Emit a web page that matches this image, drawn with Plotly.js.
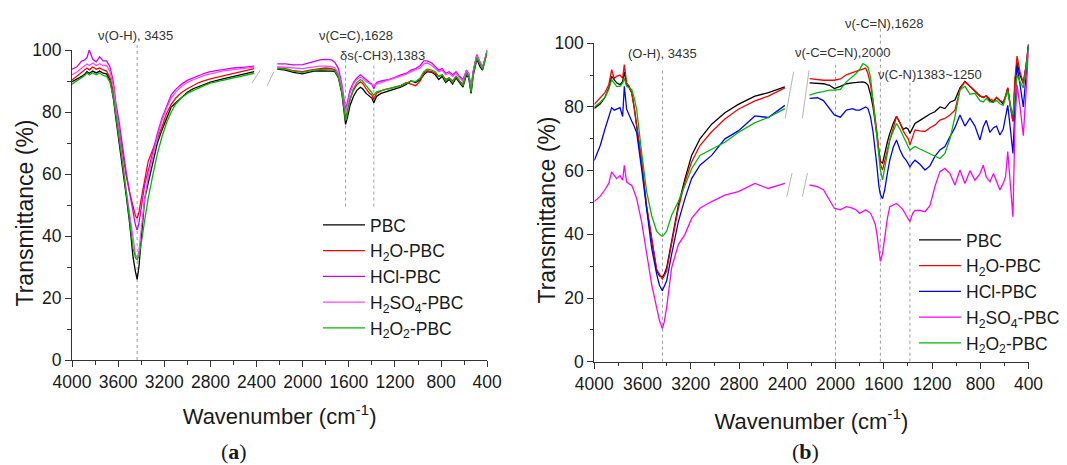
<!DOCTYPE html>
<html><head><meta charset="utf-8">
<script src="https://cdn.plot.ly/plotly-3.0.1.min.js"></script>
<style>html,body{margin:0;padding:0;background:#fff}#chart{width:1067px;height:465px}</style>
</head><body><div id="chart"></div>
<script>
// ---------------- Panel (a) data ----------------
const waveA1 = [4000, 3960, 3920, 3890, 3870, 3850, 3820, 3790, 3760, 3730, 3700, 3670, 3640, 3620, 3590, 3560, 3530, 3500, 3470, 3450, 3435, 3420, 3400, 3370, 3340, 3300, 3260, 3220, 3180, 3140, 3100, 3050, 3000, 2950, 2900, 2850, 2800, 2700, 2600, 2500, 2420];
const waveA2 = [2220, 2150, 2080, 2000, 1950, 1900, 1850, 1800, 1750, 1720, 1690, 1660, 1640, 1628, 1610, 1590, 1560, 1530, 1500, 1480, 1450, 1420, 1400, 1383, 1360, 1320, 1280, 1250, 1200, 1150, 1100, 1060, 1020, 980, 950, 920, 880, 850, 820, 790, 760, 730, 700, 670, 640, 610, 580, 560, 540, 520, 490, 460, 440, 420, 400];

const pbcA1 = [89.8, 90.5, 91.4, 92.2, 93, 92.5, 93.2, 92.6, 93.2, 92.5, 92.3, 90.3, 84, 78, 70, 62, 53, 44, 33, 28.5, 26, 30, 39, 52, 57, 63.6, 70, 74.2, 77.9, 81.6, 83, 84.7, 86.4, 87.5, 88.2, 88.9, 89.6, 90.6, 91.4, 92.3, 93];
const h2oA1 = [90.3, 91.5, 92.4, 93.5, 94.2, 93.6, 94.5, 93.8, 94.2, 93.6, 93.2, 91, 86.5, 81, 74, 65.6, 59.5, 54, 49.5, 46.5, 45.7, 47.5, 52, 58.5, 64, 67.8, 71.3, 75.2, 79.5, 82.5, 84.5, 86.3, 87.5, 88.6, 89.5, 90.1, 90.7, 91.6, 92.4, 93.2, 94];
const hclA1 = [93.8, 94.5, 96.3, 96.8, 97.5, 100, 97, 96.2, 97.8, 96.5, 96.5, 94.5, 89.5, 83, 76.5, 68, 60.5, 54, 47, 43.5, 41.9, 44, 49, 56.5, 61, 67, 73, 78, 82, 85.5, 87.3, 89, 90.2, 91, 91.8, 92.5, 93, 93.7, 94.2, 94.5, 94.8];
const h2so4A1 = [92, 92.8, 94, 94.8, 95.5, 95, 95.8, 95, 95.6, 95, 95, 93, 88, 81.5, 73.5, 64, 55, 46.5, 38, 34, 33, 35, 42, 52, 59, 65.5, 72, 77.2, 81.2, 84.5, 86.5, 88.3, 89.5, 90.4, 91.2, 91.8, 92.3, 93.2, 93.7, 94.1, 94.5];
const h2o2A1 = [89, 90, 91, 91.8, 92.6, 92, 92.6, 92, 92.6, 91.8, 91.5, 89.5, 84.5, 78.5, 71, 63, 54, 45, 36, 33, 32.3, 33.5, 37.5, 45, 52, 59.5, 66.5, 72, 76.5, 80, 82.6, 84.6, 86, 86.9, 87.8, 88.6, 89.3, 90.2, 91, 91.8, 92.5];

const pbcA2 = [93.8, 93.5, 92.8, 92.3, 92.8, 93.2, 93.3, 93.3, 93.2, 93, 91, 86, 79, 76, 78.5, 82, 85, 87, 88, 87.5, 86, 85, 84.5, 83, 85, 86, 86.5, 86.8, 87.5, 88, 89, 90, 89.5, 90.5, 92, 93, 92.8, 92, 90.5, 91.5, 89.5, 90.5, 89, 91, 89.5, 88, 92, 91, 86, 92, 97, 94.5, 93.5, 96.5, 99.5];
const h2oA2 = [94.2, 94, 93.3, 93, 93.4, 93.8, 94, 94.2, 94, 93.6, 91.5, 87, 80.5, 77.8, 80.5, 84, 87, 88.8, 89.7, 89.2, 87.5, 86, 85.5, 84, 86, 86.8, 87.3, 87.5, 88, 88.5, 89.5, 89, 88.5, 90, 92.5, 93.3, 93, 92.5, 91.5, 92, 90.5, 91, 90, 91.5, 90, 89, 93, 92, 87, 93, 98.5, 95.5, 94, 97, 99.8];
const hclA2 = [95.5, 95.5, 95.2, 95.3, 95.8, 96.3, 96.8, 97, 96.8, 96, 94, 89, 83, 80.6, 83.5, 87, 89.5, 91, 92, 91.5, 90.5, 89.5, 89, 87.5, 89.5, 90, 90.3, 90.5, 91.2, 92, 92.5, 93.5, 94, 95, 96.5, 96.5, 95.8, 94.5, 93.5, 94, 92.5, 93, 92, 93, 91.5, 90.5, 93.5, 92.5, 88, 93.5, 98.4, 96, 94.5, 97, 100];
const h2so4A2 = [94.6, 94.4, 94, 94, 94.3, 94.6, 94.8, 94.8, 94.6, 94.2, 92.5, 88, 82, 79.6, 82.5, 86, 89, 90.5, 91.2, 90.8, 89.8, 89.2, 88.8, 88.5, 89, 89.5, 89.8, 90.3, 91, 91.5, 92.2, 93, 93.5, 94.2, 95.5, 95.8, 95, 94, 93, 93.5, 92, 92.5, 91.5, 92.5, 91, 90, 93.3, 92.3, 87.5, 93.3, 98.2, 95.8, 94.2, 97, 99.8];
const h2o2A2 = [94, 93.8, 93.2, 92.8, 93.2, 93.6, 93.7, 93.7, 93.6, 93.3, 91.3, 86.5, 79.8, 77.3, 80, 84, 87.5, 89.5, 90.5, 90, 88.5, 87, 86.3, 85.4, 86.5, 87, 87.3, 87.5, 88, 88.5, 89.3, 90, 89.8, 91, 93, 93.8, 93.5, 93, 91.5, 92, 90, 91, 89.5, 91.5, 90, 88.5, 92.5, 91.5, 86.5, 92.5, 97.5, 95, 93.8, 96.5, 99.5];

// ---------------- Panel (b) data ----------------
const waveB1 = [4000, 3950, 3912, 3880, 3856, 3835, 3815, 3787, 3765, 3751, 3732, 3710, 3690, 3670, 3649, 3608, 3566, 3525, 3483, 3460, 3436, 3420, 3400, 3359, 3303, 3248, 3193, 3124, 3027, 2917, 2806, 2668, 2557, 2420];
const waveB2 = [2215, 2150, 2100, 2050, 2010, 1960, 1910, 1860, 1830, 1800, 1773, 1750, 1731, 1710, 1689, 1670, 1656, 1640, 1628, 1610, 1592, 1570, 1550, 1520, 1494, 1465, 1439, 1415, 1397, 1383, 1360, 1341, 1300, 1258, 1217, 1176, 1134, 1093, 1051, 1010, 968, 927, 885, 844, 803, 775, 750, 720, 690, 665, 637, 610, 590, 572, 550, 529, 512, 495, 470, 443, 420, 400];

const pbcB1 = [79.5, 81, 83, 86, 89.6, 88.5, 87.6, 87, 88, 91, 87, 86, 84.5, 80, 74, 62.7, 48.2, 37.8, 28.5, 27, 26.4, 27.5, 29.5, 37.8, 49.2, 57.5, 64.8, 70, 74.6, 78.2, 80.8, 83.4, 84.5, 86.3];
const h2oB1 = [80.8, 83, 84.5, 87, 91.7, 89, 89.6, 90, 89, 93.3, 87.6, 86.5, 84.5, 80, 74, 63, 49, 38.5, 29, 27.5, 26, 27, 28.5, 37, 48.2, 56.5, 62.7, 67.9, 72.2, 76.2, 79.3, 81.9, 83.4, 86];
const hclB1 = [63.2, 68, 73, 77, 79.8, 79, 79.3, 79.8, 77, 86.5, 79.3, 77, 75.6, 74, 72, 60.6, 47.2, 35.8, 27.5, 24, 22.3, 23.5, 25.4, 33.7, 44, 51.3, 57.5, 61.7, 64.8, 70, 72.5, 77.2, 76.7, 80.5];
const h2so4B1 = [50.3, 52, 54, 56, 59.6, 58.5, 57.5, 58.5, 57, 61.7, 56.5, 55.8, 55.4, 53.5, 51.3, 44, 33.7, 24.4, 17, 13, 10.4, 12.5, 17, 29.5, 36.8, 40, 45, 48.2, 50.3, 52.3, 53.4, 56, 54.4, 56];
const h2o2B1 = [80, 81.5, 83, 85.5, 88.6, 87.5, 86.5, 86.5, 87.5, 89, 86.5, 86, 85.5, 83, 79.3, 65.8, 53.4, 46, 41, 40, 39.4, 40, 41, 46, 50.3, 55.4, 60.6, 64.8, 66.8, 68.9, 72, 75.1, 76.7, 79.5];

const pbcB2 = [87.6, 87.5, 87.3, 86.8, 85.8, 86.5, 87.3, 87.6, 87.8, 87.8, 87.9, 87.6, 86.9, 84, 80, 75.5, 71, 66, 63, 62.3, 65.5, 69, 71.7, 75, 77.1, 75, 73, 73.5, 73, 71.7, 73.5, 74.8, 75.8, 76.9, 77.8, 78.5, 80, 79.5, 81.5, 82.2, 86, 88, 86.5, 85, 83.5, 83, 83.5, 82, 81.5, 83, 82, 81, 83.5, 86, 80, 75.5, 88, 94, 90, 87.4, 93, 99.5];
const h2oB2 = [88.9, 88.6, 88.4, 88.4, 88.4, 88.8, 90.1, 90.8, 91.2, 91.5, 92, 92.2, 90.5, 87, 82, 77, 72, 66, 62, 60.2, 63.4, 66.5, 69.6, 74, 77.1, 75, 72.5, 71, 70, 68.1, 71, 72.8, 72.5, 72.3, 73.5, 74.3, 75.9, 76.4, 77.5, 79, 85.5, 88, 86.5, 85, 83.5, 83, 83.5, 82.5, 82, 83, 82, 81.5, 83.5, 86, 80, 75.5, 89, 96, 91, 87.5, 93, 99.8];
const hclB2 = [82.7, 82.9, 82, 79.5, 77.5, 76.8, 79, 79.5, 79, 79, 79.5, 80, 79.5, 76.9, 72.2, 66.5, 61.2, 55, 52.5, 51.2, 54, 59.2, 63.3, 67.5, 69.6, 66.5, 64.4, 63.3, 62.3, 61.2, 62.5, 63.3, 62, 60.2, 61.5, 64.5, 66.5, 67.6, 70.7, 73.5, 77.5, 74, 76.5, 74, 69.6, 73.8, 75.8, 72, 73.5, 74, 71.2, 73, 77, 80.5, 73, 65.4, 80, 93, 87, 80, 90, 99];
const h2so4B2 = [55.5, 55, 54, 51, 48.2, 47.7, 48.7, 48.2, 47.7, 46.6, 47.2, 47.7, 47.2, 46.6, 45, 43, 40, 35, 31.5, 34, 39.3, 45, 48.7, 49.2, 49.7, 48.7, 47.7, 46, 45, 44, 46.6, 47.5, 47.5, 47.1, 49, 55, 59.7, 60.7, 59.1, 55.5, 60.2, 56, 60, 57, 59, 61.7, 58, 56.5, 59.1, 56.5, 53.9, 56, 58.1, 66, 55, 45.5, 75, 87, 80, 71, 85, 97];
const h2o2B2 = [83.7, 84.5, 84.8, 85.3, 85.3, 85.5, 87.9, 89.4, 90.5, 91.8, 93.6, 93.2, 92.5, 89.4, 82.1, 75, 69.6, 63, 60.2, 57.1, 61.2, 65.5, 69.6, 72.5, 74.8, 73, 70.7, 68.5, 67.5, 66.5, 67.2, 67.6, 66.8, 66, 65.2, 64.4, 63.8, 65.4, 70, 77, 85.3, 86.5, 84, 84.3, 82, 81.6, 82.7, 81.5, 81.6, 82, 81, 80.5, 83, 85, 80, 77.5, 84, 90, 88, 86, 92, 99];

const seriesNames = ['PBC', 'H<sub>2</sub>O-PBC', 'HCl-PBC', 'H<sub>2</sub>SO<sub>4</sub>-PBC', 'H<sub>2</sub>O<sub>2</sub>-PBC'];
const xTickVals = [4000, 3600, 3200, 2800, 2400, 2000, 1600, 1200, 800, 400];
const yTitle = 'Transmittance (%)';
const xTitle = 'Wavenumber (cm<sup>-1</sup>)';

// ---------------- styling ----------------
const colorsA = ['#000000', '#FF0000', '#CC00FF', '#FF44FF', '#00B800'];
const colorsB = ['#000000', '#FF0000', '#0000FF', '#FF00FF', '#00B800'];
const W = 1067, H = 465;
const px = v => v / W, py = v => 1 - v / H;
const domA = {x: [px(72), px(487.2)], y: [py(360), py(50)]};
const domB = {x: [px(594.3), px(1028.5)], y: [py(361.7), py(43.3)]};
const FONT = 'Liberation Sans, Arial, sans-serif';

function joinSeg(w1, v1, w2, v2) {
  const gap = (w1[w1.length - 1] + w2[0]) / 2;
  return {x: w1.concat([gap], w2), y: v1.concat([null], v2)};
}

const dataA = [[pbcA1, pbcA2], [h2oA1, h2oA2], [hclA1, hclA2], [h2so4A1, h2so4A2], [h2o2A1, h2o2A2]];
const dataB = [[pbcB1, pbcB2], [h2oB1, h2oB2], [hclB1, hclB2], [h2so4B1, h2so4B2], [h2o2B1, h2o2B2]];

const traces = [];
dataA.forEach((s, i) => {
  const d = joinSeg(waveA1, s[0], waveA2, s[1]);
  traces.push({type: 'scatter', mode: 'lines', x: d.x, y: d.y, xaxis: 'x', yaxis: 'y',
    name: seriesNames[i], legend: 'legend', legendgroup: 'a' + i, connectgaps: false,
    line: {color: colorsA[i], width: 1.3}, hoverinfo: 'skip'});
});
dataB.forEach((s, i) => {
  const d = joinSeg(waveB1, s[0], waveB2, s[1]);
  traces.push({type: 'scatter', mode: 'lines', x: d.x, y: d.y, xaxis: 'x2', yaxis: 'y2',
    name: seriesNames[i], legend: 'legend2', legendgroup: 'b' + i, connectgaps: false,
    line: {color: colorsB[i], width: 1.3}, hoverinfo: 'skip'});
});

const axisCommon = {
  showline: true, linecolor: '#333', linewidth: 1.2, ticks: 'outside', ticklen: 6, tickwidth: 1.2,
  tickcolor: '#333', showgrid: false, zeroline: false, fixedrange: true,
  tickfont: {family: FONT, size: 17.5, color: '#1a1a1a'}
};
function xAxis(dom, anchor, standoff) {
  return Object.assign({}, axisCommon, {
    domain: dom, anchor: anchor, range: [4000, 400], tickmode: 'array', tickvals: xTickVals,
    minor: {dtick: 200, tick0: 400, ticks: 'outside', ticklen: 3.5, tickwidth: 1.2, tickcolor: '#333'},
    title: {text: xTitle, font: {family: FONT, size: 22, color: '#1a1a1a'}, standoff: standoff}
  });
}
function yAxis(dom, anchor) {
  return Object.assign({}, axisCommon, {
    domain: dom, anchor: anchor, range: [0, 100], tickmode: 'linear', tick0: 0, dtick: 20,
    minor: {dtick: 10, ticks: 'outside', ticklen: 3.5, tickwidth: 1.2, tickcolor: '#333'}
  });
}

const dotted = {color: '#9a9a9a', width: 1, dash: 'dot'};
const brk = {color: '#b5b5b5', width: 1};
const shapes = [
  // panel (a) reference lines
  {type: 'line', xref: 'x', yref: 'paper', x0: 3435, x1: 3435, y0: domA.y[0], y1: py(43.3), line: dotted, layer: 'below'},
  {type: 'line', xref: 'x', yref: 'y', x0: 1628, x1: 1628, y0: 49.5, y1: 98.4, line: dotted, layer: 'below'},
  {type: 'line', xref: 'x', yref: 'y', x0: 1383, x1: 1383, y0: 49.5, y1: 95.7, line: dotted, layer: 'below'},
  // panel (a) axis-break marks
  {type: 'line', xref: 'x', yref: 'y', x0: 2440, x1: 2367, y0: 89.3, y1: 93.5, line: brk},
  {type: 'line', xref: 'x', yref: 'y', x0: 2309, x1: 2250, y0: 88.4, y1: 93, line: brk},
  // panel (b) reference lines
  {type: 'line', xref: 'x2', yref: 'y2', x0: 3435, x1: 3435, y0: 0, y1: 92.1, line: dotted, layer: 'below'},
  {type: 'line', xref: 'x2', yref: 'y2', x0: 2000, x1: 2000, y0: 0, y1: 93.2, line: dotted, layer: 'below'},
  {type: 'line', xref: 'x2', yref: 'paper', x0: 1628, x1: 1628, y0: domB.y[0], y1: py(26.7), line: dotted, layer: 'below'},
  {type: 'line', xref: 'x2', yref: 'y2', x0: 1383, x1: 1383, y0: 0, y1: 89, line: dotted, layer: 'below'},
  // panel (b) axis-break marks
  {type: 'line', xref: 'x2', yref: 'y2', x0: 2418, x1: 2347, y0: 76.4, y1: 91.1, line: brk},
  {type: 'line', xref: 'x2', yref: 'y2', x0: 2275, x1: 2219, y0: 76.4, y1: 91.6, line: brk},
  {type: 'line', xref: 'x2', yref: 'y2', x0: 2404, x1: 2361, y0: 51.8, y1: 59.2, line: brk},
  {type: 'line', xref: 'x2', yref: 'y2', x0: 2275, x1: 2233, y0: 51.8, y1: 59.2, line: brk}
];

const noteFont = {family: FONT, size: 13, color: '#333'};
function note(text, x, y) {
  return {text: text, xref: 'paper', yref: 'paper', x: px(x), y: py(y), xanchor: 'center', yanchor: 'middle', showarrow: false, font: noteFont};
}
function yTitleNote(x, y) {
  return {text: yTitle, xref: 'paper', yref: 'paper', x: px(x), y: py(y), xanchor: 'center', yanchor: 'middle',
    textangle: -90, showarrow: false, font: {family: FONT, size: 23, color: '#1a1a1a'}};
}
function panelLabel(letter, x) {
  return {text: '(<b>' + letter + '</b>)', xref: 'paper', yref: 'paper', x: px(x), y: 0, xanchor: 'center', yanchor: 'bottom',
    showarrow: false, borderpad: 0, font: {family: 'Liberation Serif, Times New Roman, serif', size: 22, color: '#1a1a1a'}};
}
const annotations = [
  note('ν(O-H), 3435', 135.2, 35),
  note('ν(C=C),1628', 355.8, 35),
  note('δs(-CH3),1383', 382.5, 55),
  note('(O-H), 3435', 662.5, 53.3),
  note('ν(-C=C=N),2000', 842.5, 52.5),
  note('ν(-C=N),1628', 883.6, 23.3),
  note('ν(C-N)1383~1250', 930, 74.5),
  yTitleNote(24.5, 213),
  yTitleNote(546.5, 210),
  panelLabel('a', 234),
  panelLabel('b', 805.7)
];

const legendCommon = {xanchor: 'left', yanchor: 'top', bgcolor: 'rgba(0,0,0,0)', borderwidth: 0,
  font: {family: FONT, size: 17.5, color: '#1a1a1a'}, tracegroupgap: 0, itemwidth: 42, itemclick: false, itemdoubleclick: false};

const layout = {
  width: W, height: H, margin: {l: 0, r: 0, t: 0, b: 0},
  paper_bgcolor: '#fff', plot_bgcolor: '#fff', showlegend: true,
  xaxis: xAxis(domA.x, 'y', 17), yaxis: yAxis(domA.y, 'x'),
  xaxis2: xAxis(domB.x, 'y2', 20), yaxis2: yAxis(domB.y, 'x2'),
  legend: Object.assign({}, legendCommon, {x: px(318), y: py(207)}),
  legend2: Object.assign({}, legendCommon, {x: px(914), y: py(222)}),
  shapes: shapes, annotations: annotations
};

Plotly.newPlot('chart', traces, layout, {displayModeBar: false, responsive: false});
</script>
</body></html>
